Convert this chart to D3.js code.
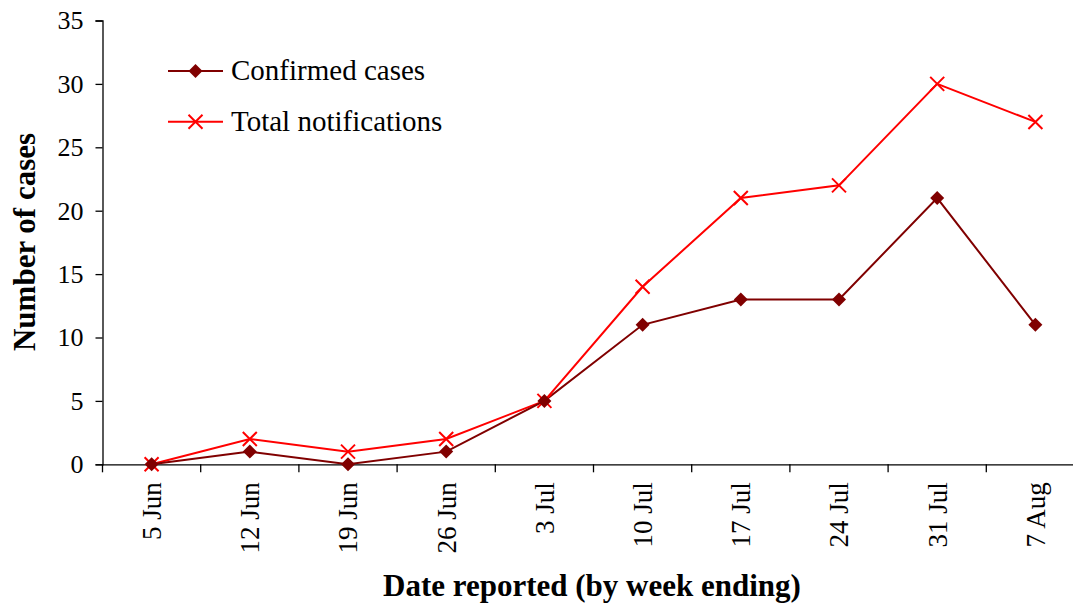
<!DOCTYPE html>
<html><head><meta charset="utf-8">
<script src="https://cdn.jsdelivr.net/npm/d3@7"></script>
<style>body{margin:0;background:#fff}svg{display:block}text{font-family:"Liberation Serif","Times New Roman",serif;fill:#000}</style>
</head><body><svg id="c" width="1073" height="603"></svg>
<script>
const weeks = ["5 Jun","12 Jun","19 Jun","26 Jun","3 Jul","10 Jul","17 Jul","24 Jul","31 Jul","7 Aug"];
const confirmed = [0,1,0,1,5,11,13,13,21,11];
const total = [0,2,1,2,5,14,21,22,30,27];
const yTicks = [0,5,10,15,20,25,30,35];
const seriesNames = ["Confirmed cases","Total notifications"];

const SERIF = '"Liberation Serif","Times New Roman",serif';
const svg = d3.select("#c");
const x = d3.scaleBand().domain(weeks).range([102.5,1084.5]);
const y = d3.scaleLinear().domain([0,35]).range([464.3,20.5]);

// y axis
const ya = svg.append("g").attr("transform","translate(102.5,0)")
  .call(d3.axisLeft(y).tickValues(yTicks).tickSize(7).tickPadding(12));
ya.attr("font-family",SERIF);
ya.select(".domain").attr("stroke","#000").attr("stroke-width",1.3);
ya.selectAll(".tick line").attr("stroke","#000").attr("stroke-width",1.3);
ya.selectAll(".tick text").style("font-size","26px").style("font-family",SERIF).attr("fill","#000");

// x axis
const xa = svg.append("g").attr("transform","translate(0,464.3)")
  .call(d3.axisBottom(x).tickSize(0).tickFormat(""));
xa.attr("font-family",SERIF);
xa.select(".domain").attr("stroke","#000").attr("stroke-width",1.3);
xa.selectAll(".tick").remove();
const bounds = weeks.map(w=>x(w)).concat([x(weeks[weeks.length-1])+x.bandwidth()]);
xa.selectAll(".bt").data(bounds).enter().append("line")
  .attr("x1",d=>d).attr("x2",d=>d).attr("y1",0).attr("y2",8)
  .attr("stroke","#000").attr("stroke-width",1.3);
xa.selectAll(".lbl").data(weeks).enter().append("text")
  .attr("transform",d=>`translate(${x(d)+x.bandwidth()/2},18) rotate(-90)`)
  .attr("text-anchor","end").attr("dy","0.35em").attr("fill","#000")
  .style("font-size","27px").style("font-family",SERIF).text(d=>d);

const cx = d=>x(d)+x.bandwidth()/2;
const line = d3.line().x((d,i)=>cx(weeks[i])).y(d=>y(d));

// total notifications
svg.append("path").datum(total).attr("d",line).attr("fill","none").attr("stroke","#ff0000").attr("stroke-width",2);
// confirmed
svg.append("path").datum(confirmed).attr("d",line).attr("fill","none").attr("stroke","#800000").attr("stroke-width",2);

function cross(g, px, py){
  const s=7;
  g.append("path").attr("d",`M${px-s},${py-s}L${px+s},${py+s}M${px-s},${py+s}L${px+s},${py-s}`)
    .attr("stroke","#ff0000").attr("stroke-width",2).attr("fill","none");
}
function diamond(g, px, py){
  const s=7;
  g.append("path").attr("d",`M${px},${py-s}L${px+s},${py}L${px},${py+s}L${px-s},${py}Z`).attr("fill","#800000");
}
const mk = svg.append("g");
total.forEach((v,i)=>cross(mk,cx(weeks[i]),y(v)));
confirmed.forEach((v,i)=>diamond(mk,cx(weeks[i]),y(v)));

// legend
const lg = svg.append("g");
const ly = [71,121.7];
lg.append("line").attr("x1",168).attr("x2",223).attr("y1",ly[0]).attr("y2",ly[0]).attr("stroke","#800000").attr("stroke-width",2);
diamond(lg,195.5,ly[0]);
lg.append("line").attr("x1",168).attr("x2",223).attr("y1",ly[1]).attr("y2",ly[1]).attr("stroke","#ff0000").attr("stroke-width",2);
cross(lg,195.5,ly[1]);
lg.selectAll("text").data(seriesNames).enter().append("text")
  .attr("x",231).attr("y",(d,i)=>ly[i]+9).style("font-size","29px").text(d=>d);

// titles
svg.append("text").attr("transform","translate(35,242) rotate(-90)").attr("text-anchor","middle")
  .style("font-size","31px").style("font-weight","bold").text("Number of cases");
svg.append("text").attr("x",592).attr("y",596).attr("text-anchor","middle")
  .style("font-size","31px").style("font-weight","bold").text("Date reported (by week ending)");
</script></body></html>
